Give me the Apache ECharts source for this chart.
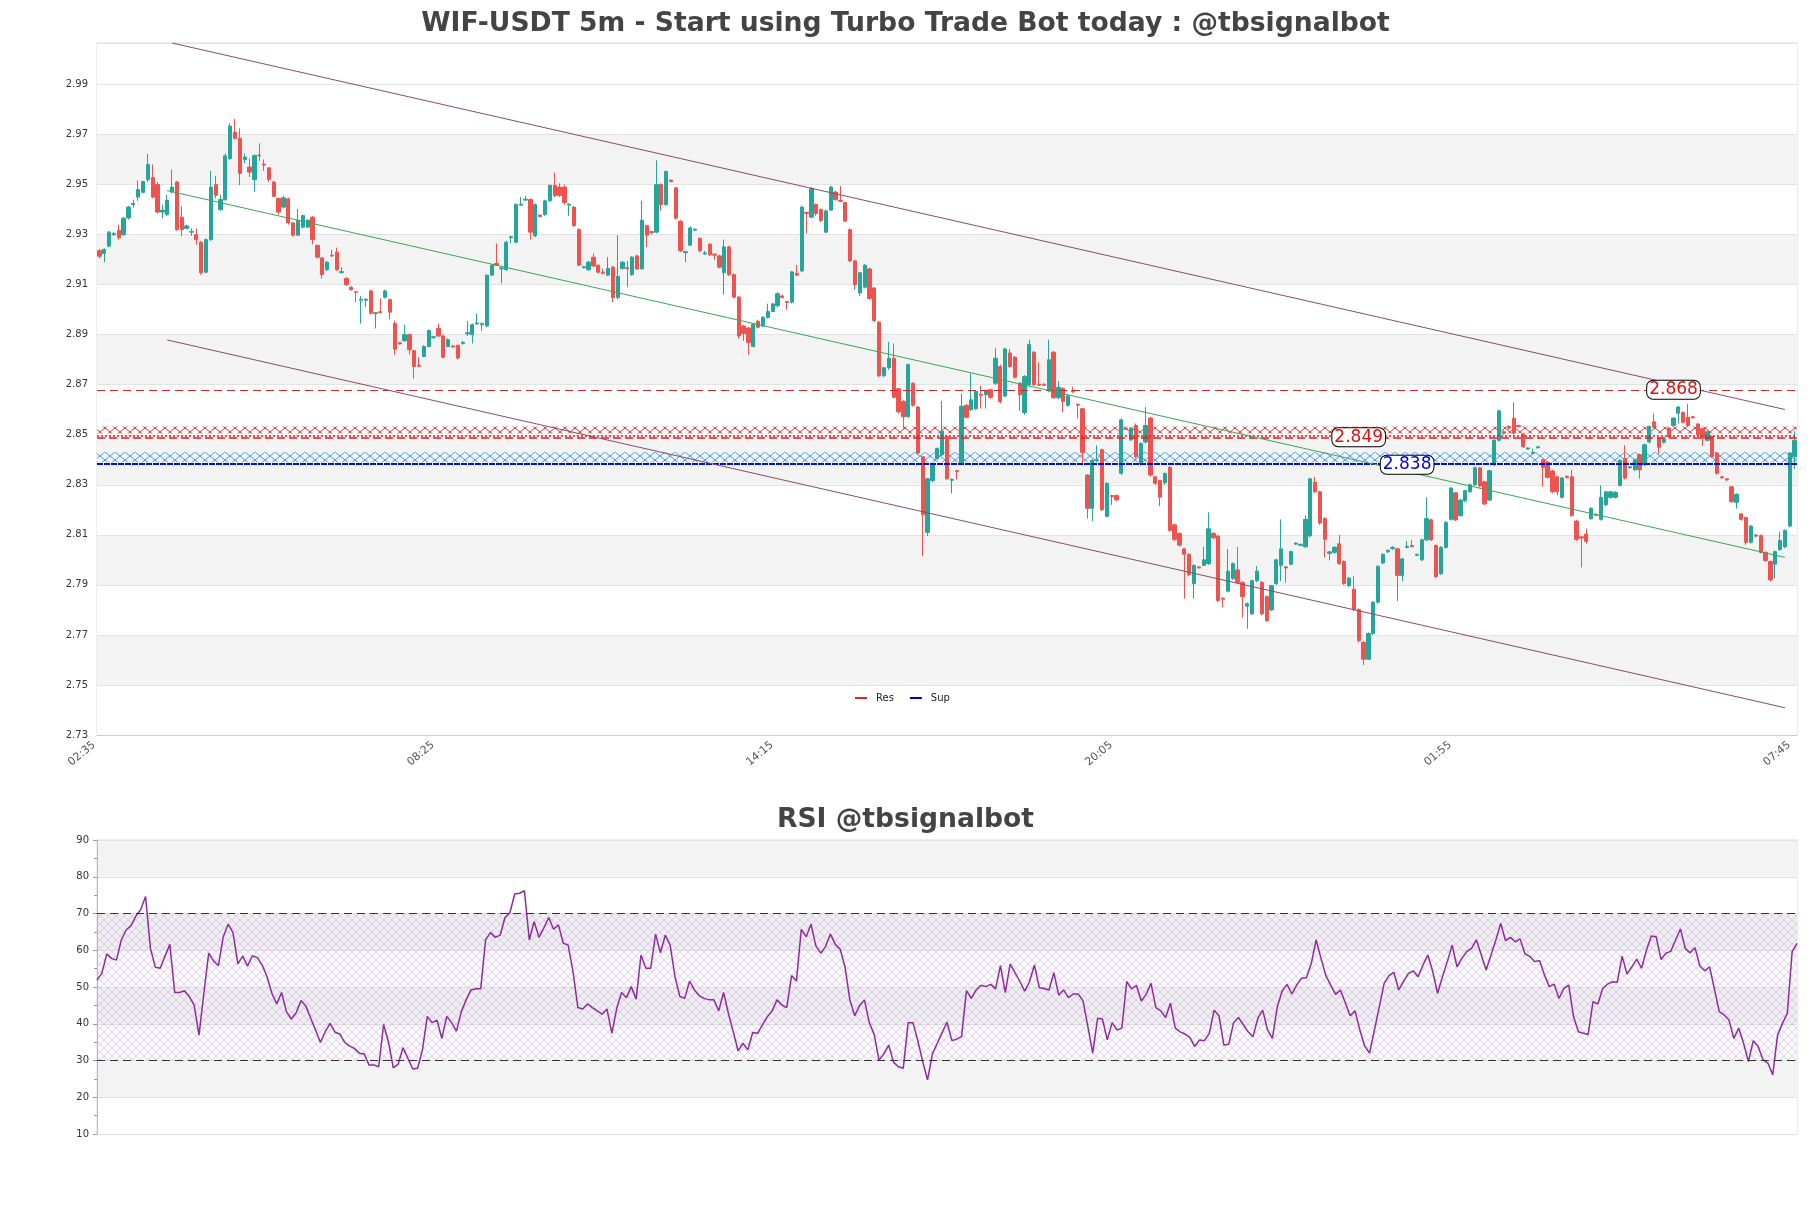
<!DOCTYPE html>
<html>
<head>
<meta charset="utf-8">
<title>WIF-USDT 5m</title>
<script src="https://cdn.jsdelivr.net/npm/echarts@6/dist/echarts.min.js"></script>
<style>
  html, body { margin: 0; padding: 0; background: #ffffff; }
  #chart { width: 1811px; height: 1208px; }
</style>
</head>
<body>
<div id="chart"></div>
<script>
// 5m candles, [open, close, low, high], first bar at 02:35
const candles = [
  [2.9236,2.9214,2.9205,2.9242],[2.9225,2.9241,2.9190,2.9245],[2.9254,2.9310,2.9250,2.9315],[2.9300,2.9305,2.9295,2.9310],[2.9318,2.9288,2.9280,2.9340],
  [2.9300,2.9366,2.9295,2.9370],[2.9367,2.9410,2.9360,2.9415],[2.9420,2.9425,2.9408,2.9440],[2.9450,2.9480,2.9435,2.9516],[2.9469,2.9512,2.9465,2.9515],
  [2.9520,2.9580,2.9510,2.9623],[2.9528,2.9450,2.9445,2.9580],[2.9500,2.9390,2.9385,2.9510],[2.9390,2.9398,2.9365,2.9420],[2.9380,2.9438,2.9375,2.9460],
  [2.9470,2.9490,2.9465,2.9560],[2.9510,2.9320,2.9315,2.9515],[2.9370,2.9320,2.9295,2.9412],[2.9325,2.9335,2.9325,2.9340],[2.9310,2.9312,2.9295,2.9325],
  [2.9300,2.9280,2.9260,2.9325],[2.9270,2.9148,2.9140,2.9275],[2.9150,2.9280,2.9145,2.9285],[2.9280,2.9490,2.9275,2.9555],[2.9500,2.9457,2.9445,2.9535],
  [2.9400,2.9440,2.9395,2.9460],[2.9440,2.9615,2.9435,2.9625],[2.9604,2.9734,2.9600,2.9745],[2.9710,2.9685,2.9680,2.9763],[2.9685,2.9545,2.9498,2.9725],
  [2.9600,2.9610,2.9585,2.9625],[2.9570,2.9550,2.9530,2.9605],[2.9520,2.9616,2.9470,2.9620],[2.9618,2.9615,2.9595,2.9665],[2.9582,2.9578,2.9555,2.9600],
  [2.9567,2.9520,2.9510,2.9570],[2.9510,2.9453,2.9450,2.9515],[2.9445,2.9390,2.9380,2.9448],[2.9410,2.9447,2.9405,2.9455],[2.9443,2.9347,2.9340,2.9448],
  [2.9347,2.9298,2.9292,2.9350],[2.9298,2.9357,2.9295,2.9402],[2.9330,2.9376,2.9325,2.9380],[2.9330,2.9358,2.9328,2.9362],[2.9370,2.9280,2.9262,2.9375],
  [2.9257,2.9210,2.9205,2.9260],[2.9207,2.9140,2.9125,2.9210],[2.9160,2.9190,2.9155,2.9195],[2.9218,2.9215,2.9210,2.9240],[2.9230,2.9160,2.9155,2.9248],
  [2.9148,2.9152,2.9145,2.9170],[2.9125,2.9100,2.9095,2.9130],[2.9090,2.9080,2.9075,2.9095],[2.9072,2.9070,2.9030,2.9075],[2.9038,2.9042,2.8945,2.9055],
  [2.9038,2.9042,2.9010,2.9045],[2.9075,2.8986,2.8980,2.9080],[2.8984,2.8988,2.8925,2.8990],[2.8992,2.8988,2.8985,2.9045],[2.9050,2.9075,2.9045,2.9080],
  [2.9040,2.8990,2.8960,2.9045],[2.8945,2.8842,2.8820,2.8955],[2.8868,2.8864,2.8860,2.8870],[2.8876,2.8900,2.8872,2.8940],[2.8900,2.8840,2.8820,2.8905],
  [2.8836,2.8773,2.8725,2.8840],[2.8778,2.8774,2.8770,2.8810],[2.8813,2.8853,2.8810,2.8858],[2.8853,2.8917,2.8850,2.8920],[2.8888,2.8892,2.8885,2.8895],
  [2.8925,2.8895,2.8890,2.8945],[2.8895,2.8810,2.8805,2.8900],[2.8853,2.8880,2.8850,2.8885],[2.8855,2.8851,2.8850,2.8860],[2.8858,2.8807,2.8800,2.8860],
  [2.8865,2.8869,2.8860,2.8875],[2.8904,2.8908,2.8895,2.8955],[2.8900,2.8940,2.8865,2.8945],[2.8943,2.8947,2.8940,2.8985],[2.8940,2.8944,2.8915,2.8950],
  [2.8935,2.9138,2.8930,2.9140],[2.9138,2.9178,2.9135,2.9180],[2.9185,2.9178,2.9175,2.9265],[2.9163,2.9167,2.9105,2.9170],[2.9160,2.9270,2.9155,2.9275],
  [2.9288,2.9292,2.9265,2.9295],[2.9270,2.9420,2.9265,2.9425],[2.9418,2.9422,2.9415,2.9450],[2.9438,2.9442,2.9435,2.9455],[2.9440,2.9310,2.9280,2.9445],
  [2.9295,2.9420,2.9290,2.9425],[2.9378,2.9372,2.9370,2.9380],[2.9380,2.9435,2.9375,2.9440],[2.9435,2.9497,2.9430,2.9500],[2.9497,2.9457,2.9450,2.9548],
  [2.9490,2.9457,2.9450,2.9505],[2.9490,2.9428,2.9420,2.9500],[2.9418,2.9422,2.9375,2.9425],[2.9410,2.9336,2.9330,2.9415],[2.9320,2.9178,2.9175,2.9325],
  [2.9168,2.9172,2.9165,2.9175],[2.9160,2.9190,2.9155,2.9195],[2.9210,2.9175,2.9170,2.9225],[2.9178,2.9150,2.9145,2.9180],[2.9150,2.9146,2.9140,2.9165],
  [2.9138,2.9165,2.9135,2.9210],[2.9170,2.9048,2.9030,2.9175],[2.9048,2.9133,2.9040,2.9298],[2.9165,2.9190,2.9160,2.9195],[2.9168,2.9164,2.9090,2.9195],
  [2.9140,2.9210,2.9135,2.9215],[2.9215,2.9163,2.9160,2.9220],[2.9163,2.9358,2.9160,2.9435],[2.9336,2.9298,2.9250,2.9340],[2.9312,2.9308,2.9300,2.9315],
  [2.9310,2.9500,2.9305,2.9597],[2.9500,2.9420,2.9395,2.9505],[2.9420,2.9553,2.9415,2.9555],[2.9518,2.9512,2.9510,2.9520],[2.9487,2.9366,2.9360,2.9490],
  [2.9354,2.9236,2.9230,2.9358],[2.9228,2.9232,2.9190,2.9235],[2.9258,2.9327,2.9255,2.9333],[2.9318,2.9322,2.9315,2.9325],[2.9285,2.9236,2.9230,2.9290],
  [2.9223,2.9227,2.9220,2.9235],[2.9262,2.9220,2.9215,2.9265],[2.9222,2.9218,2.9200,2.9225],[2.9215,2.9170,2.9165,2.9220],[2.9148,2.9251,2.9060,2.9280],
  [2.9251,2.9140,2.9135,2.9255],[2.9140,2.9050,2.9045,2.9145],[2.9050,2.8895,2.8885,2.9055],[2.8935,2.8905,2.8875,2.8940],[2.8927,2.8868,2.8820,2.8930],
  [2.8853,2.8942,2.8850,2.8945],[2.8954,2.8930,2.8925,2.8960],[2.8935,2.8969,2.8930,2.8975],[2.8969,2.8993,2.8965,2.9024],[2.8993,2.9023,2.8990,2.9028],
  [2.9016,2.9064,2.9010,2.9070],[2.9055,2.9049,2.9045,2.9060],[2.9033,2.9029,2.9000,2.9035],[2.9030,2.9151,2.9025,2.9155],[2.9145,2.9138,2.9135,2.9178],
  [2.9155,2.9410,2.9150,2.9415],[2.9389,2.9385,2.9305,2.9390],[2.9370,2.9484,2.9365,2.9490],[2.9420,2.9384,2.9375,2.9425],[2.9400,2.9357,2.9350,2.9405],
  [2.9310,2.9395,2.9305,2.9400],[2.9398,2.9490,2.9395,2.9495],[2.9470,2.9440,2.9435,2.9475],[2.9437,2.9433,2.9430,2.9495],[2.9428,2.9354,2.9350,2.9430],
  [2.9320,2.9195,2.9190,2.9325],[2.9195,2.9100,2.9080,2.9200],[2.9067,2.9148,2.9055,2.9150],[2.9090,2.9178,2.9085,2.9182],[2.9163,2.9045,2.9040,2.9168],
  [2.9087,2.8957,2.8950,2.9090],[2.8950,2.8736,2.8730,2.8955],[2.8736,2.8768,2.8730,2.8770],[2.8768,2.8806,2.8760,2.8871],[2.8806,2.8650,2.8645,2.8865],
  [2.8684,2.8592,2.8585,2.8688],[2.8634,2.8572,2.8525,2.8638],[2.8572,2.8780,2.8568,2.8785],[2.8706,2.8618,2.8612,2.8710],[2.8611,2.8427,2.8420,2.8615],
  [2.8412,2.8180,2.8015,2.8415],[2.8110,2.8324,2.8095,2.8328],[2.8317,2.8383,2.8310,2.8388],[2.8405,2.8445,2.8400,2.8450],[2.8420,2.8515,2.8415,2.8635],
  [2.8493,2.8324,2.8320,2.8500],[2.8318,2.8322,2.8265,2.8325],[2.8357,2.8353,2.8320,2.8360],[2.8383,2.8614,2.8380,2.8665],[2.8618,2.8570,2.8565,2.8622],
  [2.8600,2.8640,2.8595,2.8745],[2.8604,2.8674,2.8600,2.8678],[2.8662,2.8658,2.8605,2.8695],[2.8660,2.8675,2.8605,2.8680],[2.8680,2.8650,2.8645,2.8685],
  [2.8706,2.8806,2.8700,2.8846],[2.8773,2.8633,2.8625,2.8780],[2.8655,2.8843,2.8650,2.8848],[2.8827,2.8773,2.8768,2.8843],[2.8810,2.8730,2.8725,2.8815],
  [2.8706,2.8660,2.8595,2.8710],[2.8589,2.8733,2.8580,2.8738],[2.8700,2.8861,2.8695,2.8880],[2.8830,2.8700,2.8695,2.8835],[2.8702,2.8698,2.8695,2.8790],
  [2.8702,2.8698,2.8695,2.8705],[2.8675,2.8800,2.8670,2.8880],[2.8830,2.8648,2.8643,2.8835],[2.8648,2.8690,2.8643,2.8715],[2.8685,2.8633,2.8590,2.8690],
  [2.8618,2.8655,2.8612,2.8660],[2.8678,2.8672,2.8668,2.8692],[2.8622,2.8618,2.8565,2.8625],[2.8604,2.8430,2.8377,2.8608],[2.8339,2.8206,2.8165,2.8342],
  [2.8206,2.8398,2.8155,2.8402],[2.8396,2.8400,2.8392,2.8458],[2.8440,2.8200,2.8195,2.8445],[2.8174,2.8306,2.8170,2.8310],[2.8257,2.8253,2.8220,2.8260],
  [2.8258,2.8240,2.8235,2.8260],[2.8346,2.8560,2.8340,2.8565],[2.8526,2.8522,2.8520,2.8530],[2.8480,2.8527,2.8475,2.8530],[2.8537,2.8412,2.8405,2.8545],
  [2.8383,2.8465,2.8378,2.8470],[2.8471,2.8537,2.8465,2.8611],[2.8567,2.8339,2.8333,2.8572],[2.8332,2.8306,2.8300,2.8336],[2.8317,2.8251,2.8215,2.8320],
  [2.8308,2.8345,2.8300,2.8350],[2.8370,2.8118,2.8112,2.8375],[2.8140,2.8082,2.8076,2.8145],[2.8106,2.8059,2.8053,2.8110],[2.8044,2.8022,2.7845,2.8048],
  [2.8022,2.7941,2.7935,2.8026],[2.7905,2.7978,2.7845,2.7982],[2.7972,2.7968,2.7965,2.7975],[2.7978,2.8000,2.7975,2.8052],[2.7985,2.8124,2.7980,2.8190],
  [2.8106,2.8088,2.8082,2.8110],[2.8095,2.7838,2.7832,2.8100],[2.7847,2.7843,2.7810,2.7850],[2.7875,2.7955,2.7870,2.8044],[2.7926,2.7985,2.7920,2.7990],
  [2.7960,2.7910,2.7905,2.8052],[2.7910,2.7853,2.7770,2.7915],[2.7815,2.7825,2.7725,2.7830],[2.7784,2.7917,2.7780,2.7920],[2.7917,2.7955,2.7910,2.7975],
  [2.7910,2.7784,2.7778,2.7915],[2.7853,2.7757,2.7752,2.7858],[2.7800,2.7897,2.7795,2.7900],[2.7905,2.8000,2.7900,2.8004],[2.7978,2.8044,2.7915,2.8162],
  [2.7972,2.7968,2.7910,2.7975],[2.7983,2.8033,2.7978,2.8037],[2.8063,2.8067,2.8060,2.8070],[2.8058,2.8062,2.8055,2.8065],[2.8052,2.8162,2.8048,2.8178],
  [2.8096,2.8324,2.8090,2.8328],[2.8310,2.8272,2.8268,2.8332],[2.8272,2.8147,2.8140,2.8276],[2.8165,2.8082,2.8010,2.8170],[2.8026,2.8032,2.7998,2.8035],
  [2.8030,2.8050,2.8025,2.8055],[2.8064,2.7985,2.7980,2.8100],[2.7993,2.7905,2.7900,2.7998],[2.7897,2.7927,2.7892,2.7932],[2.7883,2.7802,2.7796,2.7935],
  [2.7802,2.7677,2.7670,2.7806],[2.7670,2.7603,2.7580,2.7675],[2.7603,2.7706,2.7600,2.7710],[2.7706,2.7831,2.7700,2.7835],[2.7831,2.7974,2.7825,2.7978],
  [2.7988,2.8022,2.7983,2.8026],[2.8032,2.8038,2.8028,2.8042],[2.8045,2.8050,2.8040,2.8055],[2.8044,2.7938,2.7835,2.8048],[2.7938,2.8004,2.7915,2.8008],
  [2.8050,2.8054,2.8046,2.8075],[2.8057,2.8053,2.8050,2.8080],[2.8018,2.8022,2.8015,2.8025],[2.8000,2.8080,2.7995,2.8085],[2.8080,2.8165,2.8075,2.8250],
  [2.8160,2.8080,2.8075,2.8165],[2.8058,2.7933,2.7927,2.8062],[2.7945,2.8050,2.7940,2.8055],[2.8050,2.8150,2.8045,2.8155],[2.8162,2.8287,2.8158,2.8290],
  [2.8268,2.8160,2.8155,2.8272],[2.8177,2.8239,2.8172,2.8243],[2.8236,2.8277,2.8230,2.8280],[2.8272,2.8300,2.8268,2.8305],[2.8300,2.8368,2.8295,2.8372],
  [2.8368,2.8295,2.8290,2.8372],[2.8312,2.8224,2.8218,2.8316],[2.8239,2.8356,2.8235,2.8360],[2.8380,2.8478,2.8375,2.8482],[2.8478,2.8596,2.8473,2.8600],
  [2.8512,2.8506,2.8500,2.8518],[2.8533,2.8527,2.8520,2.8538],[2.8566,2.8507,2.8500,2.8630],[2.8537,2.8533,2.8530,2.8540],[2.8503,2.8452,2.8447,2.8508],
  [2.8443,2.8447,2.8440,2.8450],[2.8425,2.8429,2.8422,2.8445],[2.8448,2.8452,2.8445,2.8455],[2.8400,2.8370,2.8293,2.8405],[2.8390,2.8330,2.8325,2.8395],
  [2.8355,2.8272,2.8266,2.8360],[2.8332,2.8272,2.8258,2.8336],[2.8250,2.8327,2.8245,2.8332],[2.8334,2.8330,2.8325,2.8338],[2.8332,2.8177,2.8172,2.8360],
  [2.8155,2.8082,2.8076,2.8160],[2.8092,2.8088,2.7970,2.8095],[2.8103,2.8074,2.8065,2.8125],[2.8165,2.8206,2.8160,2.8210],[2.8182,2.8178,2.8175,2.8185],
  [2.8162,2.8250,2.8157,2.8298],[2.8220,2.8272,2.8215,2.8276],[2.8250,2.8272,2.8245,2.8276],[2.8250,2.8270,2.8245,2.8275],[2.8298,2.8398,2.8293,2.8402],
  [2.8405,2.8327,2.8322,2.8458],[2.8368,2.8372,2.8365,2.8375],[2.8360,2.8400,2.8355,2.8405],[2.8420,2.8360,2.8325,2.8425],[2.8380,2.8460,2.8375,2.8465],
  [2.8471,2.8533,2.8466,2.8538],[2.8552,2.8530,2.8526,2.8585],[2.8486,2.8450,2.8422,2.8490],[2.8470,2.8483,2.8465,2.8488],[2.8527,2.8493,2.8488,2.8530],
  [2.8537,2.8567,2.8532,2.8570],[2.8586,2.8611,2.8545,2.8615],[2.8589,2.8550,2.8545,2.8593],[2.8570,2.8537,2.8530,2.8623],[2.8572,2.8568,2.8565,2.8576],
  [2.8543,2.8500,2.8495,2.8547],[2.8524,2.8486,2.8455,2.8528],[2.8478,2.8512,2.8473,2.8516],[2.8493,2.8412,2.8407,2.8497],[2.8427,2.8346,2.8340,2.8431],
  [2.8332,2.8328,2.8325,2.8336],[2.8324,2.8320,2.8315,2.8327],[2.8292,2.8233,2.8228,2.8296],[2.8230,2.8262,2.8205,2.8266],[2.8184,2.8162,2.8157,2.8188],
  [2.8169,2.8070,2.8060,2.8173],[2.8070,2.8135,2.8065,2.8140],[2.8099,2.8095,2.8090,2.8103],[2.8097,2.8030,2.8025,2.8101],[2.8030,2.7997,2.7992,2.8034],
  [2.7993,2.7920,2.7914,2.7997],[2.7983,2.8033,2.7927,2.8037],[2.8041,2.8077,2.8036,2.8113],[2.8052,2.8118,2.8047,2.8122],[2.8135,2.8427,2.8130,2.8431],
  [2.8412,2.8478,2.8363,2.8515]
];

// RSI(14), one value per candle
const rsi = [
  51.9, 53.7, 59, 57.8, 57.3, 62.8, 65.5, 66.7, 69.3, 71.1,
  74.6, 60.5, 55.4, 55.1, 58.4, 61.6, 48.5, 48.5, 49, 47.4,
  45.1, 36.9, 48.3, 59.2, 57.1, 55.8, 63.7, 67.1, 64.8, 56.3,
  58.4, 55.7, 58.5, 58, 56, 52.8, 48.3, 45.4, 48.5, 43.3,
  41.3, 43, 46.3, 44.8, 41.5, 38.3, 34.9, 37.9, 40.1, 37.7,
  37.2, 34.9, 33.9, 33.3, 32, 31.8, 28.8, 28.8, 28.3, 39.8,
  35.1, 28, 29, 33.5, 30.6, 27.7, 27.9, 32.9, 42, 40.3,
  41, 36, 42, 40.3, 38, 43.3, 46.5, 49.2, 49.5, 49.5,
  62.8, 64.8, 63.5, 64.1, 68.9, 70.2, 75.3, 75.5, 76.2, 62.8,
  67.8, 63.5, 66.1, 68.9, 65.7, 66.9, 61.9, 61.4, 54.2, 44.4,
  44, 45.4, 44.4, 43.5, 42.6, 44, 37.4, 44.2, 48.5, 47.1,
  50.1, 46.7, 58.7, 55.1, 55.1, 64.4, 59.3, 64.1, 61.4, 52.8,
  47.4, 46.9, 51.6, 49.2, 47.6, 46.9, 46.5, 46.5, 43.5, 48.5,
  42.8, 37.8, 32.6, 34.7, 32.9, 37.6, 37.4, 39.7, 41.9, 43.5,
  46.5, 45.1, 44.4, 53.1, 51.6, 65.7, 63.7, 67.1, 61.2, 59.2,
  61, 64.4, 61.6, 60.3, 55.5, 46.5, 42.2, 44.9, 46.5, 40.3,
  37.1, 30.1, 31.8, 34.2, 29.5, 28.3, 27.9, 40.3, 40.3, 35.3,
  29.7, 24.7, 31.8, 34.7, 37.6, 40.4, 35.4, 35.8, 36.5,
  49, 46.9, 49.2, 50.5, 50.1, 50.7, 49.5, 55.8, 48.5, 56.2,
  53.9, 51.5, 48.9, 51.5, 56, 49.8, 49.6, 49.2, 53.9, 47.8,
  49.2, 47.1, 48.1, 48.1, 46.3, 39.2, 32, 41.5, 41.3, 35.6,
  40.3, 38.3, 38.8, 51.5, 49.5, 50.4, 46.2, 48, 51, 44.4,
  43.5, 41.7, 45.6, 38.8, 37.8, 37.2, 36.3, 33.8, 35.6, 35.4,
  37.4, 43.7, 42.2, 34.2, 34.4, 40.3, 41.7, 39.8, 37.8, 36.5,
  41.5, 43.7, 38.3, 36, 44.6, 48.9, 50.7, 48.1, 50.5, 52.4,
  52.5, 56.4, 62.8, 57.8, 53.1, 50.5, 48, 49.2, 45.7, 42.2,
  43.5, 38.3, 33.9, 32, 38.3, 44.6, 51, 53.1, 54,
  49.2, 51.5, 53.7, 54.4, 52.8, 56, 58.7, 54.2, 48.3, 52.8,
  56.9, 61.4, 55.5, 57.8, 59.6, 60.5, 62.8, 58.7, 54.6, 58.7,
  62.8, 67.3, 62.6, 63.5, 62.3, 63.1, 59, 58.3, 56.9, 57.2,
  53.3, 50.1, 50.8, 46.9, 49.6, 50.5, 41.9, 37.8, 37.4, 37.1,
  46, 45.4, 49.6, 50.8, 51.4, 51.3, 58.4, 53.5, 55.5, 57.6,
  55.1, 60, 63.9, 63.7, 57.5, 59.2, 59.7, 62.8, 65.8, 60.5,
  59.3, 60.7, 55.7, 54.4, 55.5, 49.4, 43.3, 42.4, 41, 36,
  38.8, 34.7, 29.7, 35.4, 33.8, 30.2, 29.3, 26.1, 36.9, 40.1,
  42.8, 59.6, 61.9
];

// levels
const resLevel = 2.849;
const supLevel = 2.838;
const upperLevel = 2.868;
const resBand = [2.8505, 2.8533];
const supBand = [2.8390, 2.8430];
const rsiHigh = 70;
const rsiLow = 30;

// trend lines: [bar index, price]
const upperChannel = [[15, 3.0066], [348, 2.8601]];
const lowerChannel = [[14, 2.8879], [348, 2.7409]];
const midLine = [[14, 2.9476], [348, 2.8010]];

// level tags: [bar index, price, text]
const tags = [[325, 2.868, '2.868'], [260, 2.849, '2.849'], [270, 2.838, '2.838']];

// time labels, 5 minute bars from 02:35
const startMinute = 2 * 60 + 35;
const times = candles.map((c, i) => {
  const m = (startMinute + i * 5) % 1440;
  return String(Math.floor(m / 60)).padStart(2, '0') + ':' + String(m % 60).padStart(2, '0');
});

// cross hatch fill
function hatch(stroke, bg, w, h) {
  const c = document.createElement('canvas');
  c.width = w; c.height = h;
  const g = c.getContext('2d');
  if (bg) { g.fillStyle = bg; g.fillRect(0, 0, w, h); }
  g.strokeStyle = stroke;
  g.lineWidth = 1;
  g.beginPath();
  g.moveTo(0, 0); g.lineTo(w, h);
  g.moveTo(w, 0); g.lineTo(0, h);
  g.stroke();
  return { image: c, repeat: 'repeat' };
}

const FONT = 'DejaVu Sans';
const trendStyle = { color: '#8a4b68', width: 1, type: 'solid' };

const chart = echarts.init(document.getElementById('chart'));

chart.setOption({
  animation: false,
  textStyle: { fontFamily: FONT },
  title: [
    {
      text: 'WIF-USDT 5m - Start using Turbo Trade Bot today : @tbsignalbot',
      left: 'center', top: 6,
      textStyle: { fontSize: 26.6, fontWeight: 'bold', color: '#444', fontFamily: FONT }
    },
    {
      text: 'RSI @tbsignalbot',
      left: 'center', top: 802,
      textStyle: { fontSize: 26.6, fontWeight: 'bold', color: '#444', fontFamily: FONT }
    }
  ],
  legend: {
    data: [
      { name: 'Res', icon: 'rect' },
      { name: 'Sup', icon: 'rect' }
    ],
    left: 849, top: 688,
    itemWidth: 12, itemHeight: 2, itemGap: 16,
    padding: [5, 6],
    backgroundColor: '#fff',
    textStyle: { fontSize: 10, color: '#222', fontFamily: FONT, padding: [0, 0, 0, 4] }
  },
  grid: [
    { left: 97, right: 14, top: 43, height: 692, show: true, borderColor: '#dcdcdc', borderWidth: 1 },
    { left: 97, right: 14, top: 840, height: 294, show: true, borderColor: '#dcdcdc', borderWidth: 1 }
  ],
  xAxis: [
    {
      type: 'category', gridIndex: 0, data: times, boundaryGap: true,
      axisLine: { show: true, lineStyle: { color: '#cccccc' } },
      axisTick: { show: false },
      axisLabel: { interval: 69, rotate: 40, fontSize: 11, color: '#555', margin: 4, padding: [0, 7, 0, 0] },
      splitLine: { show: false }
    },
    {
      type: 'category', gridIndex: 1, data: times, boundaryGap: false,
      axisLine: { show: true, lineStyle: { color: '#dcdcdc' } },
      axisTick: { show: false },
      axisLabel: { show: false },
      splitLine: { show: false }
    }
  ],
  yAxis: [
    {
      type: 'value', gridIndex: 0, min: 2.73, max: 3.0066, interval: 0.02,
      axisLine: { show: false }, axisTick: { show: false },
      axisLabel: { fontSize: 10, color: '#333', margin: 9, showMaxLabel: false, formatter: v => v.toFixed(2) },
      splitLine: { lineStyle: { color: '#e3e3e3' } },
      splitArea: {
        show: true,
        areaStyle: { color: ['#ffffff', '#f3f3f3', '#ffffff', '#f3f3f3', '#ffffff', '#f3f3f3', '#ffffff',
                             '#f3f3f3', '#ffffff', '#f3f3f3', '#ffffff', '#f3f3f3', '#ffffff', '#ffffff'] }
      }
    },
    {
      type: 'value', gridIndex: 1, min: 10, max: 90, interval: 10,
      axisLine: { show: true, lineStyle: { color: '#bbbbbb' } },
      axisTick: { show: true, length: 4, lineStyle: { color: '#999' } },
      minorTick: { show: true, splitNumber: 2, length: 3, lineStyle: { color: '#999' } },
      axisLabel: { fontSize: 10, color: '#333', margin: 8 },
      splitLine: { lineStyle: { color: '#e3e3e3' } },
      splitArea: { show: true, areaStyle: { color: ['#ffffff', '#f3f3f3'] } }
    }
  ],
  series: [
    {
      name: 'Res', type: 'line', xAxisIndex: 0, yAxisIndex: 0, data: [],
      color: '#d62728', z: 1, silent: true,
      markArea: {
        silent: true,
        itemStyle: { color: hatch('rgba(220,30,30,0.9)', null, 10, 8) },
        data: [[{ yAxis: resBand[0] }, { yAxis: resBand[1] }]]
      },
      markLine: {
        silent: true, symbol: 'none', precision: 4, label: { show: false },
        data: [
          { yAxis: resLevel + 0.0008, lineStyle: { color: '#e02020', width: 1.5, type: [2, 2] } },
          { yAxis: resLevel - 0.0003, lineStyle: { color: '#e02020', width: 1.5, type: [8, 4] } },
          { yAxis: upperLevel, lineStyle: { color: '#d62728', width: 1.2, type: [8, 5] } }
        ]
      }
    },
    {
      name: 'Sup', type: 'line', xAxisIndex: 0, yAxisIndex: 0, data: [],
      color: '#0000cc', z: 1, silent: true,
      markArea: {
        silent: true,
        itemStyle: { color: hatch('rgba(40,150,255,0.9)', null, 10, 8) },
        data: [[{ yAxis: supBand[0] }, { yAxis: supBand[1] }]]
      },
      markLine: {
        silent: true, symbol: 'none', precision: 4, label: { show: false },
        data: [
          { yAxis: supLevel + 0.0003, lineStyle: { color: '#0010d0', width: 2.2, type: [6, 1] } }
        ]
      }
    },
    {
      name: 'WIF', type: 'candlestick', xAxisIndex: 0, yAxisIndex: 0, z: 3,
      data: candles,
      barWidth: '78%',
      itemStyle: {
        color: '#26a69a', color0: '#ef5350',
        borderColor: '#26a69a', borderColor0: '#ef5350', borderWidth: 1
      },
      markLine: {
        silent: true, symbol: 'none', precision: 4, label: { show: false },
        lineStyle: trendStyle,
        data: [
          [{ coord: upperChannel[0] }, { coord: upperChannel[1] }],
          [{ coord: lowerChannel[0] }, { coord: lowerChannel[1] }],
          [{ coord: midLine[0] }, { coord: midLine[1], lineStyle: { color: '#3aa655', width: 1 } }]
        ]
      },
      markPoint: {
        silent: true, symbol: 'rect', symbolSize: 1,
        itemStyle: { color: 'rgba(0,0,0,0)' },
        label: {
          show: true, position: 'inside', fontSize: 17, fontFamily: FONT,
          backgroundColor: '#fff', borderColor: '#000', borderWidth: 1, borderRadius: 6,
          padding: [1, 2, 0, 2], formatter: p => p.name
        },
        data: tags.map((t, k) => ({
          name: t[2], coord: [t[0], t[1]],
          label: { color: k === 2 ? '#0000dd' : '#e01010' }
        }))
      }
    },
    {
      name: 'RSI', type: 'line', xAxisIndex: 1, yAxisIndex: 1,
      data: rsi, symbol: 'none', z: 3,
      lineStyle: { color: '#8e2c9e', width: 1.5 },
      itemStyle: { color: '#8e2c9e' },
      markArea: {
        silent: true,
        itemStyle: { color: hatch('rgba(170,150,190,0.35)', 'rgba(200,170,220,0.07)', 8, 8) },
        data: [[{ yAxis: rsiLow }, { yAxis: rsiHigh }]]
      },
      markLine: {
        silent: true, symbol: 'none', label: { show: false },
        lineStyle: { color: '#333', width: 1.2, type: [8, 5] },
        data: [{ yAxis: rsiHigh }, { yAxis: rsiLow }]
      }
    }
  ]
});
</script>
</body>
</html>
